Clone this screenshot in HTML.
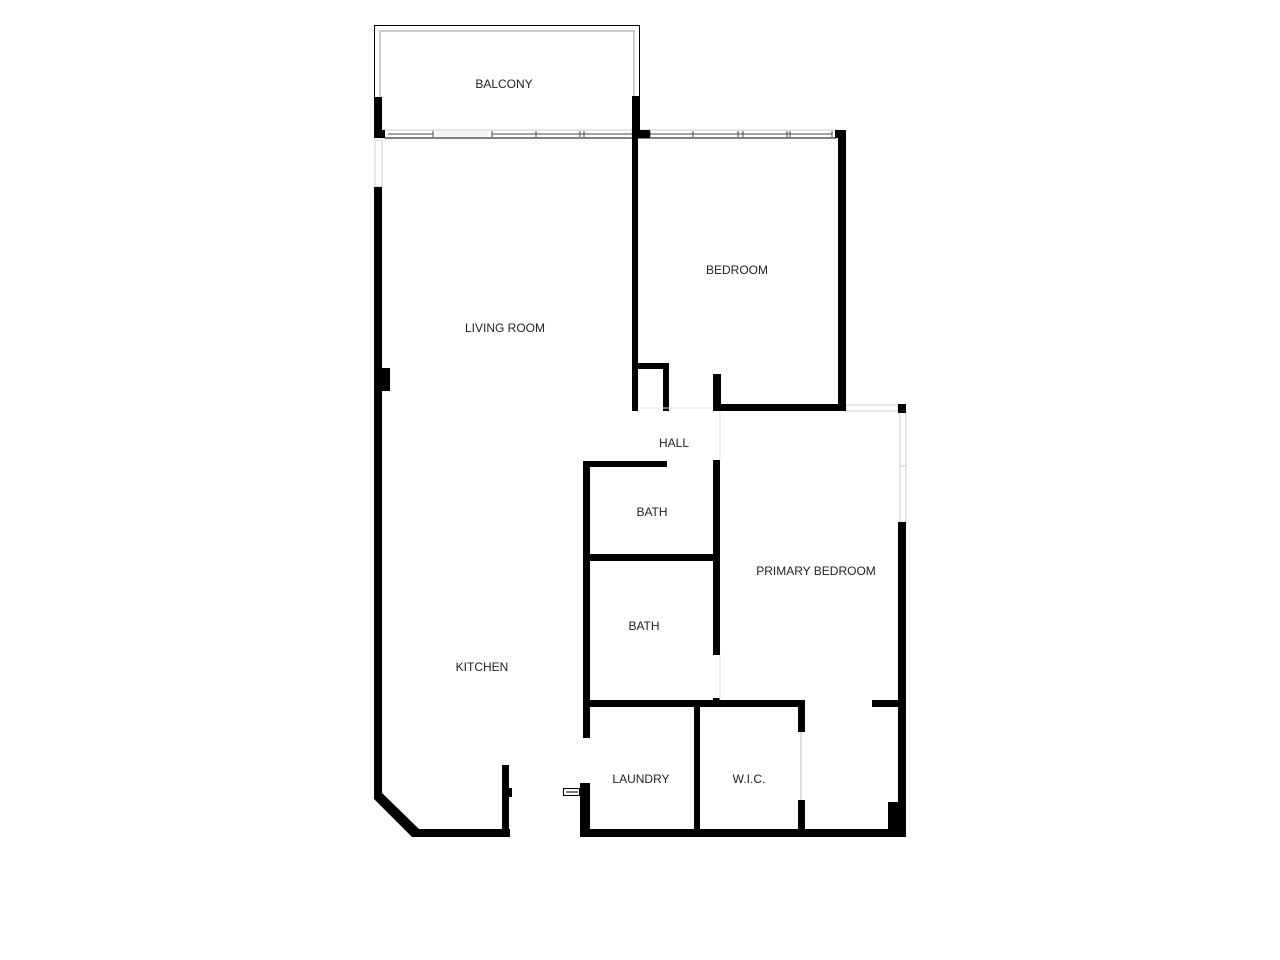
<!DOCTYPE html>
<html><head><style>
html,body{margin:0;padding:0;background:#fff;width:1280px;height:960px;overflow:hidden}
svg{display:block}
text{font-family:"Liberation Sans",sans-serif;font-size:12px;fill:#222}
</style></head><body>
<svg width="1280" height="960" viewBox="0 0 1280 960">
<!-- balcony -->
<rect x="374.5" y="25.5" width="265" height="105" fill="none" stroke="#000" stroke-width="1"/>
<polyline points="380,97 380,31 634,31 634,97" fill="none" stroke="#bbb" stroke-width="1.5"/>
<!-- top windows -->
<rect x="382" y="130" width="250" height="8" fill="#fff" stroke="#ccc" stroke-width="1"/>
<rect x="640" y="130" width="197" height="8" fill="#fff" stroke="#ccc" stroke-width="1"/>
<line x1="385" y1="138" x2="836" y2="138" stroke="#000" stroke-width="1"/>
<g stroke="#444" stroke-width="1">
<line x1="388" y1="134" x2="433" y2="134"/><line x1="492" y1="134" x2="632" y2="134"/>
<line x1="650" y1="134" x2="832" y2="134"/>
<line x1="433" y1="131" x2="433" y2="137"/><line x1="492" y1="131" x2="492" y2="137"/>
<line x1="536" y1="131" x2="536" y2="137"/><line x1="580" y1="131" x2="580" y2="137"/>
<line x1="584" y1="131" x2="584" y2="137"/><line x1="650" y1="131" x2="650" y2="137"/>
<line x1="693" y1="131" x2="693" y2="137"/><line x1="738" y1="131" x2="738" y2="137"/>
<line x1="743" y1="131" x2="743" y2="137"/><line x1="787" y1="131" x2="787" y2="137"/>
<line x1="790" y1="131" x2="790" y2="137"/><line x1="832" y1="131" x2="832" y2="137"/>
</g>
<rect x="436" y="131" width="52" height="6" fill="#f6f6f6"/>
<!-- left windows -->
<rect x="375" y="140" width="7" height="47" fill="#fff" stroke="#ccc"/>
<rect x="900" y="412" width="6" height="110" fill="#fff" stroke="#ccc"/>
<line x1="900" y1="466" x2="906" y2="466" stroke="#ccc"/>
<rect x="846" y="405" width="52" height="6" fill="#fff" stroke="#ccc"/>
<g fill="#000">
<rect x="374" y="97" width="8" height="41"/>
<rect x="374" y="130" width="11" height="8"/>
<rect x="632" y="96" width="8" height="42"/>
<rect x="632" y="130" width="18" height="8"/>
<rect x="835" y="130" width="11" height="8"/>
<rect x="374" y="187" width="8" height="610"/>
<rect x="382" y="368" width="8" height="23"/>
<polygon points="374,793 382,793 419,829 419,837 412,837 374,799"/>
<rect x="414" y="829" width="96" height="8"/>
<rect x="502" y="765" width="7" height="72"/>
<rect x="508" y="788" width="4" height="9"/>
<!-- bedroom -->
<rect x="632" y="138" width="6" height="273"/>
<rect x="838" y="130" width="8" height="281"/>
<rect x="713" y="404" width="133" height="7"/>
<rect x="713" y="374" width="8" height="37"/>
<rect x="632" y="363" width="37" height="6"/>
<rect x="663" y="363" width="6" height="48"/>
<rect x="898" y="404" width="8" height="9"/>
<rect x="898" y="522" width="8" height="315"/>
<!-- baths -->
<rect x="583" y="461" width="84" height="6"/>
<rect x="583" y="461" width="7" height="277"/>
<rect x="713" y="460" width="7" height="195"/>
<rect x="583" y="554" width="137" height="7"/>
<rect x="583" y="700" width="222" height="7"/>
<rect x="580" y="783" width="10" height="54"/>
<rect x="694" y="700" width="6" height="137"/>
<rect x="798" y="700" width="7" height="32"/>
<rect x="798" y="800" width="7" height="37"/>
<rect x="872" y="700" width="34" height="7"/>
<rect x="580" y="829" width="326" height="8"/>
<rect x="888" y="802" width="18" height="35"/>
<rect x="713" y="698" width="7" height="5"/>
</g>
<line x1="720" y1="411" x2="720" y2="460" stroke="#e4e4e4"/>
<line x1="720" y1="655" x2="720" y2="700" stroke="#e4e4e4"/>
<line x1="638" y1="408" x2="713" y2="408" stroke="#e4e4e4"/>
<line x1="801" y1="732" x2="801" y2="800" stroke="#bbb"/>
<g stroke="#000" stroke-width="1" fill="none">
<rect x="563.5" y="788.5" width="16" height="7"/><line x1="566" y1="792" x2="578" y2="792"/>
</g>
<text x="504" y="88" text-anchor="middle">BALCONY</text>
<text x="737" y="274" text-anchor="middle">BEDROOM</text>
<text x="505" y="332" text-anchor="middle">LIVING ROOM</text>
<text x="674" y="447" text-anchor="middle">HALL</text>
<text x="652" y="516" text-anchor="middle">BATH</text>
<text x="816" y="575" text-anchor="middle">PRIMARY BEDROOM</text>
<text x="644" y="630" text-anchor="middle">BATH</text>
<text x="482" y="671" text-anchor="middle">KITCHEN</text>
<text x="641" y="783" text-anchor="middle">LAUNDRY</text>
<text x="749" y="783" text-anchor="middle">W.I.C.</text>
</svg>
</body></html>
